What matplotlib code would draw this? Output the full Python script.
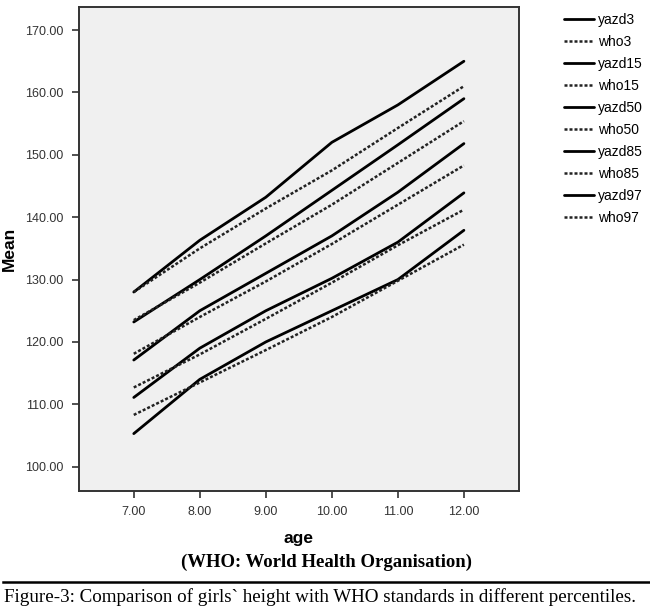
import matplotlib.pyplot as plt

plt.rcParams['font.family'] = ['Liberation Sans', 'DejaVu Sans']

# girls' height (cm) by age, Yazd sample vs WHO reference, per percentile
ages = [7, 8, 9, 10, 11, 12]
yazd3 = [105.3, 114, 120, 125, 130, 137.9]
who3 = [108.3, 113.5, 118.7, 124, 129.8, 135.6]
yazd15 = [111.1, 119, 125, 130.2, 136, 143.9]
who15 = [112.7, 118, 123.7, 129.5, 135.5, 141.2]
yazd50 = [117.1, 125, 131, 137, 144, 151.8]
who50 = [118.1, 124, 129.7, 135.7, 142, 148.3]
yazd85 = [123.2, 130, 137, 144.3, 151.6, 159]
who85 = [123.5, 129.5, 135.8, 142, 148.7, 155.4]
yazd97 = [128, 136.3, 143.2, 152, 158, 165]
who97 = [128, 135, 141.4, 147.5, 154.3, 161]

series = [
    ("yazd3", yazd3), ("who3", who3),
    ("yazd15", yazd15), ("who15", who15),
    ("yazd50", yazd50), ("who50", who50),
    ("yazd85", yazd85), ("who85", who85),
    ("yazd97", yazd97), ("who97", who97),
]
yticks = [100, 110, 120, 130, 140, 150, 160, 170]

fig = plt.figure(figsize=(6.5, 6.13), dpi=100)
ax = fig.add_axes([0.1215, 0.199, 0.6765, 0.7896])
ax.set_facecolor('#f0f0f0')

for name, vals in series:
    if name.startswith('yazd'):
        ax.plot(ages, vals, color='black', lw=2.0, solid_capstyle='round', label=name)
    else:
        ax.plot(ages, vals, color='#222222', lw=1.8, linestyle=(0, (1.2, 0.8)), label=name)

ax.set_xlim(6.17, 12.83)
ax.set_ylim(96.1, 173.7)
ax.set_xticks(ages)
ax.set_xticklabels([f"{a:.2f}" for a in ages])
ax.set_yticks(yticks)
ax.set_yticklabels([f"{t:.2f}" for t in yticks])
ax.tick_params(direction='out', length=5, width=1.2, labelsize=9, colors='#333333', pad=6)
for s in ax.spines.values():
    s.set_linewidth(1.4)
    s.set_color('#333333')

ax.set_ylabel('Mean', fontsize=12.5, fontweight='bold', labelpad=6)
ax.set_xlabel('age', fontsize=12.5, fontweight='bold', labelpad=9)

leg = ax.legend(loc='upper left', bbox_to_anchor=(1.09, 1.0), frameon=False,
                fontsize=10, handlelength=2.2, handletextpad=0.25, labelspacing=0.58,
                borderaxespad=0)

fig.text(0.503, 0.083, '(WHO: World Health Organisation)', ha='center', va='center',
         fontsize=13.5, fontweight='bold', family='Liberation Serif')
fig.add_artist(plt.Line2D([0.005, 1.0], [0.05, 0.05], color='black', lw=1.8))
fig.text(0.006, 0.026, 'Figure-3: Comparison of girls` height with WHO standards in different percentiles.',
         ha='left', va='center', fontsize=13.7, family='Liberation Serif')

fig.savefig('out.png', dpi=100)
